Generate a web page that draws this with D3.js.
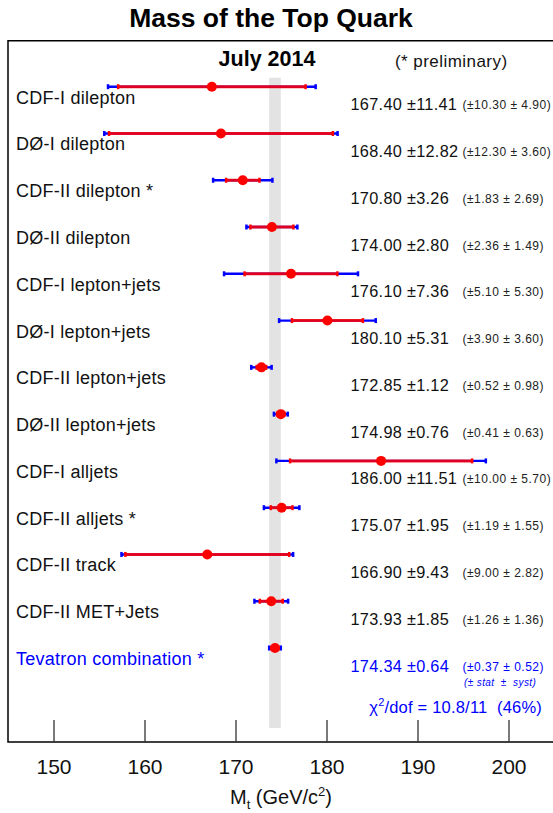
<!DOCTYPE html>
<html>
<head>
<meta charset="utf-8">
<script src="https://cdn.jsdelivr.net/npm/d3@7"></script>
<style>
  html, body { margin: 0; padding: 0; background: #fff; }
  svg { display: block; font-family: "Liberation Sans", Arial, Helvetica, sans-serif; }
</style>
</head>
<body>
<svg id="chart" width="553" height="813"></svg>
<script>
// ---- data ----
const labels = [
  "CDF-I dilepton", "DØ-I dilepton", "CDF-II dilepton *", "DØ-II dilepton",
  "CDF-I lepton+jets", "DØ-I lepton+jets", "CDF-II lepton+jets", "DØ-II lepton+jets",
  "CDF-I alljets", "CDF-II alljets *", "CDF-II track", "CDF-II MET+Jets",
  "Tevatron combination *"
];
const masses   = [167.40, 168.40, 170.80, 174.00, 176.10, 180.10, 172.85, 174.98, 186.00, 175.07, 166.90, 173.93, 174.34];
const totErr   = [11.41, 12.82, 3.26, 2.80, 7.36, 5.31, 1.12, 0.76, 11.51, 1.95, 9.43, 1.85, 0.64];
const statErr  = [10.30, 12.30, 1.83, 2.36, 5.10, 3.90, 0.52, 0.41, 10.00, 1.19, 9.00, 1.26, 0.37];
const systErr  = [4.90, 3.60, 2.69, 1.49, 5.30, 3.60, 0.98, 0.63, 5.70, 1.55, 2.82, 1.36, 0.52];
const xTicks   = [150, 160, 170, 180, 190, 200];
const combined = { mass: 174.34, err: 0.64 };

const rows = labels.map((l, i) => ({
  label: l, m: masses[i], tot: totErr[i], stat: statErr[i], syst: systErr[i],
  combo: i === labels.length - 1
}));

const svg = d3.select("#chart");
const x = d3.scaleLinear().domain([145, 205]).range([8, 554]);
const y = d3.scalePoint().domain(labels).range([86.7, 648]);

const BLUE = "#0000ff", RED = "#ff0000", TXT = "#111";
const frameTop = 40.7, frameBottom = 742;

// gray band for combination
svg.append("rect")
  .attr("x", x(combined.mass - combined.err))
  .attr("width", x(combined.mass + combined.err) - x(combined.mass - combined.err))
  .attr("y", 77.7).attr("height", 728 - 77.7)
  .attr("fill", "#e3e3e3");

// frame
svg.append("path")
  .attr("d", `M554,${frameTop}H8V${frameBottom}H554`)
  .attr("fill", "none").attr("stroke", "#000").attr("stroke-width", 1.5);

// x axis ticks (inward) + labels
const axis = d3.axisBottom(x).tickValues(xTicks).tickSize(0).tickPadding(0);
const gAx = svg.append("g").attr("transform", `translate(0,${frameBottom})`).call(axis);
gAx.select(".domain").remove();
gAx.selectAll(".tick line").attr("y1", -22).attr("y2", 0).attr("stroke", "#333").attr("stroke-width", 1.3);
gAx.selectAll(".tick text").attr("y", 32).attr("dy", 0)
  .attr("font-size", 21).attr("fill", TXT)
  .style("font-family", "'Liberation Sans', Arial, sans-serif");

// axis title
const at = svg.append("text").attr("x", 281).attr("y", 804).attr("text-anchor", "middle")
  .attr("font-size", 20).attr("fill", TXT);
at.append("tspan").text("M");
at.append("tspan").attr("font-size", 13).attr("dy", 5).text("t");
at.append("tspan").attr("dy", -5).text(" (GeV/c");
at.append("tspan").attr("font-size", 13).attr("dy", -8).text("2");
at.append("tspan").attr("dy", 8).text(")");

// title
svg.append("text").attr("x", 271).attr("y", 27).attr("text-anchor", "middle")
  .attr("font-size", 26.5).attr("font-weight", "bold").attr("fill", "#000")
  .text("Mass of the Top Quark");

svg.append("text").attr("x", 267).attr("y", 66).attr("text-anchor", "middle")
  .attr("font-size", 21.5).attr("font-weight", "bold").attr("fill", "#000")
  .text("July 2014");

svg.append("text").attr("x", 395).attr("y", 66.5)
  .attr("font-size", 17).attr("fill", TXT).style("letter-spacing", "0.45px")
  .text("(* preliminary)");

// rows
const g = svg.selectAll("g.row").data(rows).join("g").attr("class", "row");

// total error (blue)
g.append("line")
  .attr("x1", d => x(d.m - d.tot)).attr("x2", d => x(d.m + d.tot))
  .attr("y1", d => y(d.label)).attr("y2", d => y(d.label))
  .attr("stroke", BLUE).attr("stroke-width", 2.4);
[-1, 1].forEach(s => {
  g.append("line")
    .attr("x1", d => x(d.m + s * d.tot)).attr("x2", d => x(d.m + s * d.tot))
    .attr("y1", d => y(d.label) - 2.5).attr("y2", d => y(d.label) + 2.5)
    .attr("stroke", BLUE).attr("stroke-width", 2.5);
});
// stat error (red)
g.append("line")
  .attr("x1", d => x(d.m - d.stat)).attr("x2", d => x(d.m + d.stat))
  .attr("y1", d => y(d.label)).attr("y2", d => y(d.label))
  .attr("stroke", RED).attr("stroke-opacity", 0.86).attr("stroke-width", 3);
[-1, 1].forEach(s => {
  g.append("line")
    .attr("x1", d => x(d.m + s * d.stat)).attr("x2", d => x(d.m + s * d.stat))
    .attr("y1", d => y(d.label) - 2.5).attr("y2", d => y(d.label) + 2.5)
    .attr("stroke", RED).attr("stroke-width", 2.5);
});
g.append("circle")
  .attr("cx", d => x(d.m)).attr("cy", d => y(d.label)).attr("r", 5)
  .attr("fill", RED);

// labels
g.append("text")
  .attr("x", 16).attr("y", d => y(d.label) + 17)
  .attr("font-size", 18).style("letter-spacing", "0.25px")
  .attr("fill", d => d.combo ? BLUE : TXT)
  .text(d => d.label);

// values
g.append("text")
  .attr("x", 350.5).attr("y", d => y(d.label) + 23.5)
  .attr("font-size", 16.3).style("letter-spacing", "0.3px")
  .attr("fill", d => d.combo ? BLUE : TXT)
  .text(d => `${d.m.toFixed(2)} ±${d.tot.toFixed(2)}`);

g.append("text")
  .attr("x", 462.5).attr("y", d => y(d.label) + 22.5)
  .attr("font-size", 12).style("letter-spacing", "0.5px")
  .attr("fill", d => d.combo ? BLUE : "#222")
  .text(d => `(±${d.stat.toFixed(2)} ± ${d.syst.toFixed(2)})`);

// stat/syst note
svg.append("text").attr("x", 464).attr("y", 685.5)
  .attr("font-size", 10).attr("font-style", "italic").attr("fill", BLUE)
  .style("white-space", "pre").style("letter-spacing", "0.4px")
  .text("(± stat  ±  syst)");

// chi2
const chi = svg.append("text").attr("x", 542).attr("y", 713).attr("text-anchor", "end")
  .attr("font-size", 16.5).attr("fill", BLUE).style("letter-spacing", "0.2px")
  .style("white-space", "pre");
chi.append("tspan").text("χ");
chi.append("tspan").attr("font-size", 11).attr("dy", -7).text("2");
chi.append("tspan").attr("dy", 7).text("/dof = 10.8/11  (46%)");
</script>
</body>
</html>
